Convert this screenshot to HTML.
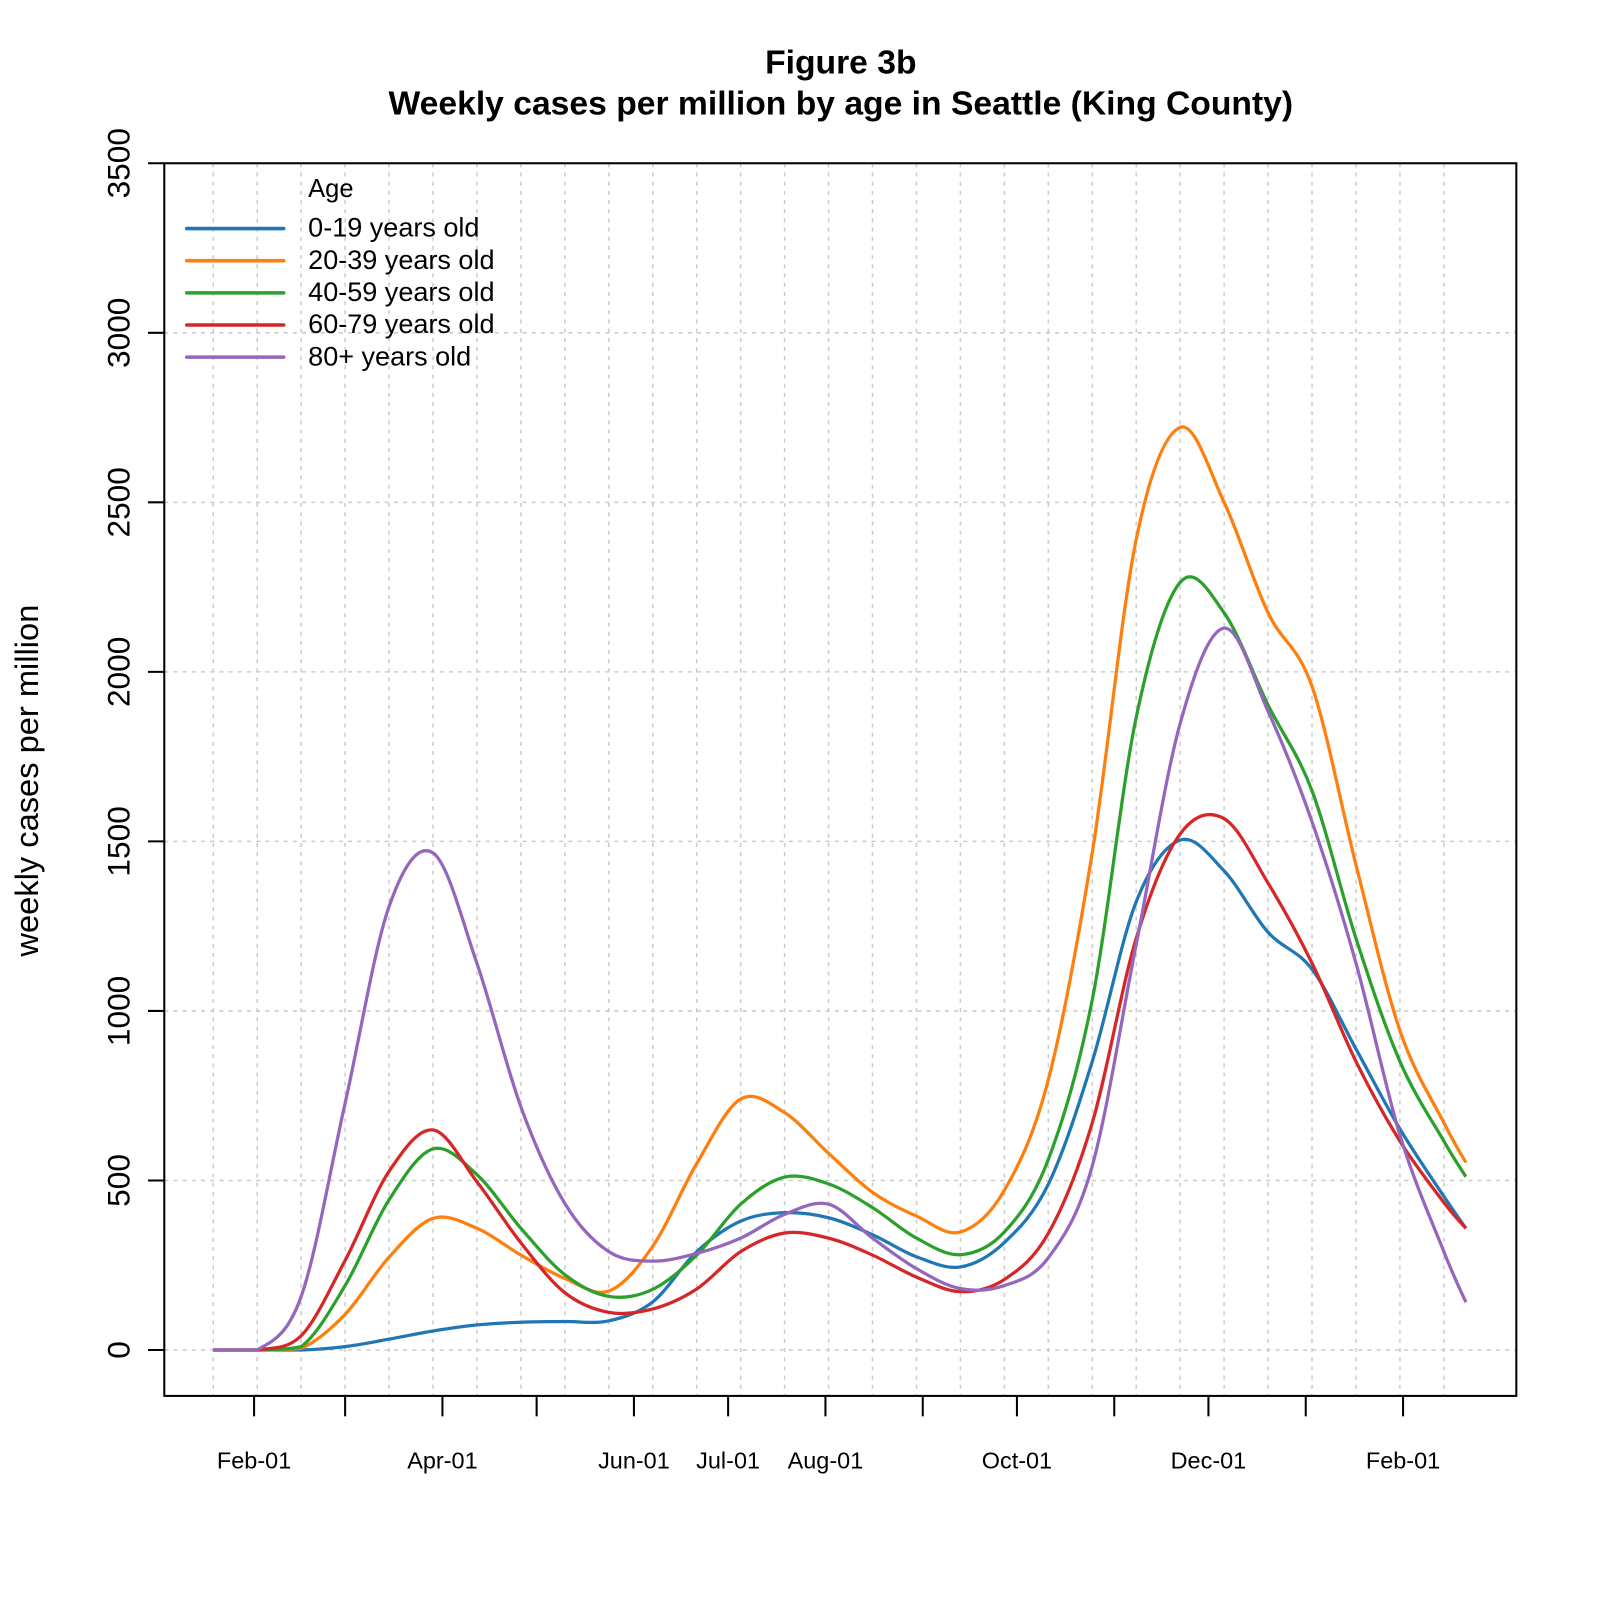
<!DOCTYPE html>
<html><head><meta charset="utf-8"><style>
html,body{margin:0;padding:0;background:#fff;}
svg{display:block;font-family:"Liberation Sans",Arial,sans-serif;}
</style></head><body>
<svg id="chart" width="1600" height="1600" viewBox="0 0 1568 1568" xmlns="http://www.w3.org/2000/svg">
<rect width="1568" height="1568" fill="#fff"/>
<text x="824" y="72" text-anchor="middle" font-size="33" font-weight="bold">Figure 3b</text>
<text x="824" y="112" text-anchor="middle" font-size="33" font-weight="bold">Weekly cases per million by age in Seattle (King County)</text>
<text transform="translate(37,765) rotate(-90)" text-anchor="middle" font-size="32">weekly cases per million</text>
<g id="grid"></g>
<g id="series"></g>
<rect x="161" y="160" width="1325" height="1208" fill="none" stroke="#000" stroke-width="2"/>
<g id="axes"></g>
<g id="legend"></g>
</svg>
<script>
// days since 2020-02-01 for each observation
const days = [-13,1,15,29,43,57,71,85,99,113,127,141,155,169,183,197,211,225,239,253,267,281,295,309,323,337,351,365,379,386];
const seriesNames = ["0-19 years old","20-39 years old","40-59 years old","60-79 years old","80+ years old"];
const seriesColors = ["#1f77b4","#ff7f0e","#2ca02c","#d62728","#9467bd"];
const age0to19 = [0,0,0,10,32,56,74,82,84,86,142,290,380,405,390,340,275,245,317,489,851,1322,1504,1413,1232,1123,888,652,453,359];
const age20to39 = [0,0,5,105,274,388,359,280,211,174,306,550,740,700,580,465,395,348,471,797,1467,2391,2721,2500,2174,1957,1431,942,670,553];
const age40to59 = [0,0,10,190,443,593,517,359,222,158,179,280,430,510,490,420,330,281,348,562,1033,1866,2264,2174,1902,1649,1214,851,616,511];
const age60to79 = [0,0,42,264,527,649,496,316,169,111,121,180,290,345,330,280,215,172,208,344,670,1214,1522,1567,1377,1141,851,616,435,359];
const age80plus = [0,0,158,728,1308,1466,1140,717,432,290,262,285,330,400,430,330,240,181,190,272,543,1196,1848,2129,1884,1558,1141,634,290,141];
const yTicks = [0,500,1000,1500,2000,2500,3000,3500];
const monthTickDays = [0,29,60,90,121,151,182,213,243,274,304,335,366];
const monthLabels = ["Feb-01","","Apr-01","","Jun-01","Jul-01","Aug-01","","Oct-01","","Dec-01","","Feb-01"];
const gridDays = [-13,1,15,29,43,57,71,85,99,113,127,141,155,169,183,197,211,225,239,253,267,281,295,309,323,337,351,365,379];

const NS="http://www.w3.org/2000/svg";
const xScale = d => 249 + d*(1126/366);
const yScale = v => 1323 - v*((1323-160)/3500);
function mk(tag, attrs, parent){const e=document.createElementNS(NS,tag);for(const k in attrs)e.setAttribute(k,attrs[k]);parent.appendChild(e);return e;}

const grid=document.getElementById('grid'), axes=document.getElementById('axes'), series=document.getElementById('series'), legend=document.getElementById('legend');
gridDays.forEach(d=>{const l=mk('line',{x1:xScale(d),x2:xScale(d),y1:160,y2:1368,stroke:'#ccc','stroke-width':1.5,'stroke-dasharray':'4,5'},grid);

});
yTicks.forEach(v=>{const y=yScale(v);
const l=mk('line',{x1:161,x2:1486,y1:y,y2:y,stroke:'#ccc','stroke-width':1.5,'stroke-dasharray':'4,5'},grid);


const t=mk('line',{x1:145,x2:161,y1:y,y2:y,stroke:'#000','stroke-width':2},axes);


const tx=mk('text',{transform:`translate(127,${y}) rotate(-90)`,'text-anchor':'middle','font-size':31},axes);
tx.textContent=v;

});
monthTickDays.forEach((d,i)=>{const x=xScale(d);
const t=mk('line',{x1:x,x2:x,y1:1368,y2:1388,stroke:'#000','stroke-width':2},axes);


if(monthLabels[i]){const tx=mk('text',{x:x,y:1439,'text-anchor':'middle','font-size':23},axes);
tx.textContent=monthLabels[i];

}});

function pathFor(vals){const p=vals.map((v,i)=>[xScale(days[i]),yScale(v)]);
let d=`M${p[0][0]},${p[0][1]}`;
for(let i=0;i<p.length-1;i++){const p0=p[i-1]||p[i],p1=p[i],p2=p[i+1],p3=p[i+2]||p2;
let c1y=p1[1]+(p2[1]-p0[1])/6, c2y=p2[1]-(p3[1]-p1[1])/6;
const base=yScale(0); c1y=Math.min(c1y,base); c2y=Math.min(c2y,base);
d+=` C${p1[0]+(p2[0]-p0[0])/6},${c1y} ${p2[0]-(p3[0]-p1[0])/6},${c2y} ${p2[0]},${p2[1]}`;}
return d;}
[age0to19,age20to39,age40to59,age60to79,age80plus].forEach((vals,i)=>{
const e=mk('path',{d:pathFor(vals),fill:'none',stroke:seriesColors[i],'stroke-width':3.2,'stroke-linejoin':'round'},series);

});

const lt=mk('text',{x:302,y:193,'font-size':25},legend);
lt.textContent='Age';


seriesNames.forEach((n,i)=>{const y=224+i*31.5;
const l=mk('line',{x1:183,x2:278,y1:y,y2:y,stroke:seriesColors[i],'stroke-width':3.5,'stroke-linecap':'round'},legend);


const t=mk('text',{x:302,y:y+8,'font-size':26.5},legend);
t.textContent=n;

});
</script>
</body></html>
